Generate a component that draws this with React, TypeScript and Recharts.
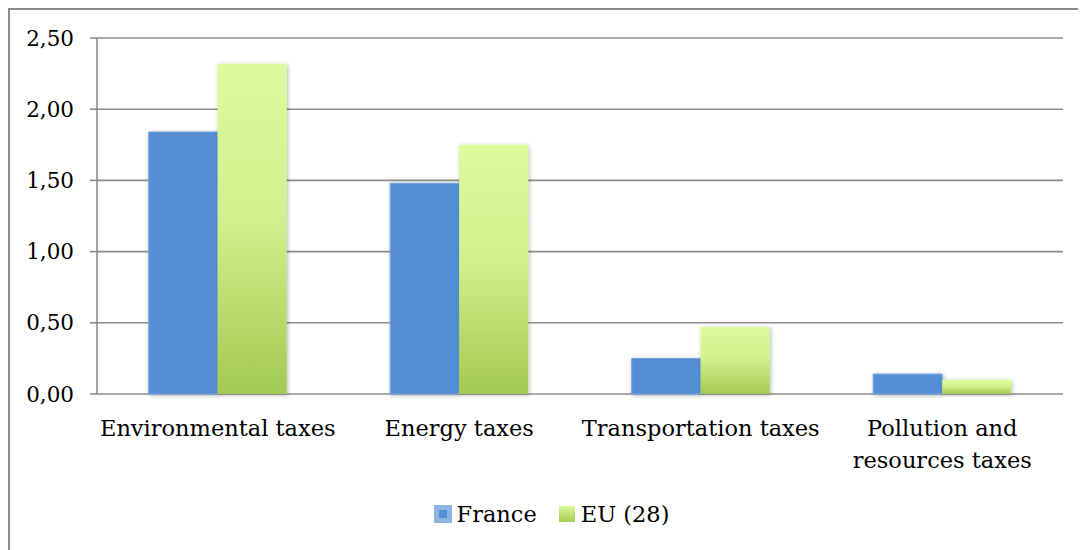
import { Bar, BarChart, CartesianGrid, Legend, XAxis, YAxis } from 'recharts'

const categories = ['Environmental taxes', 'Energy taxes', 'Transportation taxes', 'Pollution and\nresources taxes']
const france = [1.84, 1.48, 0.25, 0.14]
const eu28 = [2.32, 1.75, 0.47, 0.1]
const yTicks = [0, 0.5, 1, 1.5, 2, 2.5]
const edgeTicks = [0, 1, 2, 3, 4]

const data = categories.map((name, i) => ({ name, france: france[i], eu: eu28[i] }))

const FONT = '"DejaVu Serif", serif'
const GRID = '#8c8c8c'
const BLUE = '#558ed5'

function CategoryTick({ x, y, payload }: any) {
  const lines = String(payload.value).split('\n')
  return (
    <text x={x} y={y} textAnchor="middle" fontFamily={FONT} fontSize={22.5} fill="#000">
      {lines.map((line, i) => (
        <tspan key={i} x={x} dy={i === 0 ? 42 : 32}>
          {line}
        </tspan>
      ))}
    </text>
  )
}

function ChartLegend() {
  return (
    <div
      style={{
        display: 'flex',
        justifyContent: 'center',
        alignItems: 'center',
        fontFamily: FONT,
        fontSize: 22.5,
        color: '#000',
        height: 40,
        paddingLeft: 30,
      }}
    >
      <span
        style={{
          width: 18,
          height: 18,
          background: '#8db4e3',
          display: 'inline-flex',
          alignItems: 'center',
          justifyContent: 'center',
          marginRight: 5,
        }}
      >
        <span style={{ width: 8, height: 8, background: BLUE }} />
      </span>
      <span style={{ marginRight: 22 }}>France</span>
      <span
        style={{
          width: 16,
          height: 16,
          background: 'linear-gradient(#d9fa9b, #a5cc52)',
          marginRight: 6,
        }}
      />
      <span>EU (28)</span>
    </div>
  )
}

export default function App() {
  return (
    <div
      style={{
        width: 1078,
        height: 542,
        boxSizing: 'border-box',
        borderLeft: `2px solid ${GRID}`,
        borderTop: `2px solid ${GRID}`,
        overflow: 'hidden',
        background: '#fff',
      }}
    >
      <BarChart
        width={1076}
        height={540}
        data={data}
        margin={{ top: 28, right: 23, left: 0, bottom: 16 }}
        barCategoryGap="21.4%"
        barGap={0}
      >
        <defs>
          <linearGradient id="euFill" x1="0" y1="0" x2="0" y2="1">
            <stop offset="0%" stopColor="#dbfb9d" />
            <stop offset="45%" stopColor="#d2f28f" />
            <stop offset="100%" stopColor="#a3ca50" />
          </linearGradient>
          <filter id="barShadow" x="-20%" y="-20%" width="140%" height="140%">
            <feDropShadow dx="1" dy="1" stdDeviation="2.2" floodColor="#000" floodOpacity="0.3" />
          </filter>
        </defs>
        <CartesianGrid vertical={false} stroke={GRID} strokeWidth={1.6} />
        <XAxis
          dataKey="name"
          xAxisId="cat"
          height={100}
          axisLine={false}
          tickLine={false}
          tickSize={0}
          tickMargin={0}
          interval={0}
          tick={<CategoryTick />}
        />
        <XAxis
          xAxisId="edges"
          type="number"
          domain={[0, 4]}
          ticks={edgeTicks}
          height={0}
          tick={false}
          tickSize={7}
          stroke={GRID}
          strokeWidth={1.6}
        />
        <YAxis
          width={87}
          domain={[0, 2.5]}
          ticks={yTicks}
          tickFormatter={(v: number) => v.toFixed(2).replace('.', ',')}
          tickSize={7}
          tickMargin={16}
          stroke={GRID}
          strokeWidth={1.6}
          tick={{ fontFamily: FONT, fontSize: 21.5, fill: '#000' }}
        />
        <Legend verticalAlign="bottom" height={40} content={<ChartLegend />} />
        <Bar
          dataKey="france"
          name="France"
          xAxisId="cat"
          fill={BLUE}
          stroke="#7aa6df"
          strokeWidth={1}
          filter="url(#barShadow)"
          isAnimationActive={false}
        />
        <Bar
          dataKey="eu"
          name="EU (28)"
          xAxisId="cat"
          fill="url(#euFill)"
          filter="url(#barShadow)"
          isAnimationActive={false}
        />
      </BarChart>
    </div>
  )
}
